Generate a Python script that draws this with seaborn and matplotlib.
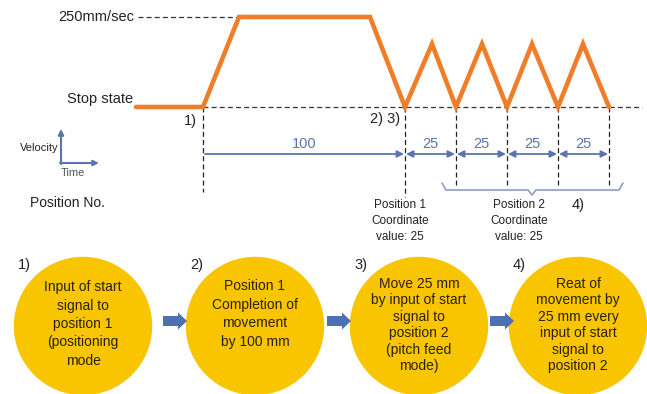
import matplotlib
matplotlib.use("Agg")
import matplotlib.pyplot as plt
import seaborn as sns
from matplotlib.patches import Circle, FancyArrow

sns.set_style("white")
plt.rcParams['font.family'] = ['Liberation Sans', 'DejaVu Sans']

# velocity profile (time in px units, velocity in mm/sec)
profile_t = [136, 203, 239, 370, 405, 432, 456, 482, 507, 532, 558, 583, 609]
profile_v = [0, 0, 250, 250, 0, 175, 0, 175, 0, 175, 0, 175, 0]

# position marks on the time axis and their distances
mark_t = [203, 405, 456, 507, 558, 609]
dist_labels = ["100", "25", "25", "25", "25"]

# step circles
step_x = [83, 255, 419, 578]
step_labels = ["1)", "2)", "3)", "4)"]
step_texts = [
    "Input of start\nsignal to\nposition 1\n(positioning\nmode",
    "Position 1\nCompletion of\nmovement\nby 100 mm",
    "Move 25 mm\nby input of start\nsignal to\nposition 2\n(pitch feed\nmode)",
    "Reat of\nmovement by\n25 mm every\ninput of start\nsignal to\nposition 2",
]

orange = "#f07d2a"
blue = "#5b74b0"
gold = "#f8c500"

def vy(v):
    # velocity -> vertical position on the sheet
    return 107 - v * 0.36

fig = plt.figure(figsize=(6.47, 3.94), dpi=100)
ax = fig.add_axes([0, 0, 1, 1])
ax.set_xlim(0, 647)
ax.set_ylim(394, 0)
ax.axis("off")

# reference dashed lines
ax.plot([138, 239], [vy(250), vy(250)], color="#333333", lw=0.9, ls=(0, (4, 2.5)))
ax.plot([203, 642], [vy(0), vy(0)], color="#333333", lw=0.9, ls=(0, (4, 2.5)))
for i, t in enumerate(mark_t):
    bottom = 192 if i == 0 else (197 if i == 1 else 185)
    ax.plot([t, t], [vy(0), bottom], color="#222222", lw=0.9, ls=(0, (4, 2.5)))

sns.lineplot(x=profile_t, y=[vy(v) for v in profile_v], ax=ax, color=orange,
             lw=3.3, sort=False, solid_joinstyle="miter", zorder=5)

ax.text(134, vy(250), "250mm/sec", ha="right", va="center", fontsize=10.5, color="#222222")
ax.text(133, 99, "Stop state", ha="right", va="center", fontsize=10.5, color="#222222")
ax.text(197, 121, "1)", ha="right", va="center", fontsize=10.5, color="#222222")
ax.text(400, 119, "2) 3)", ha="right", va="center", fontsize=10.5, color="#222222")

# distance arrows
ax.annotate("", xy=(404, 154), xytext=(205, 154),
            arrowprops=dict(arrowstyle="-|>", color=blue, lw=1.3, mutation_scale=10,
                            shrinkA=0, shrinkB=0))
ax.text((mark_t[0] + mark_t[1]) / 2, 144, dist_labels[0], ha="center", va="center",
        fontsize=10.5, color=blue)
for a, b, lab in zip(mark_t[1:-1], mark_t[2:], dist_labels[1:]):
    ax.annotate("", xy=(b - 1, 154), xytext=(a + 1, 154),
                arrowprops=dict(arrowstyle="<|-|>", color=blue, lw=1.3, mutation_scale=10,
                                shrinkA=0, shrinkB=0))
    ax.text((a + b) / 2, 144, lab, ha="center", va="center", fontsize=10.5, color=blue)

# brace under position 2 marks
bc = "#8f9dc0"
ax.plot([442, 446, 528, 532, 536, 619, 623], [183, 190, 190, 195, 190, 190, 183],
        color=bc, lw=1.2, solid_joinstyle="round")

ax.text(400, 221, "Position 1\nCoordinate\nvalue: 25", ha="center", va="center",
        fontsize=8.5, color="#222222", linespacing=1.45)
ax.text(519, 221, "Position 2\nCoordinate\nvalue: 25", ha="center", va="center",
        fontsize=8.5, color="#222222", linespacing=1.45)
ax.text(572, 205, "4)", ha="left", va="center", fontsize=10.5, color="#222222")

# velocity / time legend axes
ax.annotate("", xy=(61, 129), xytext=(61, 164),
            arrowprops=dict(arrowstyle="-|>", color=blue, lw=1.5, mutation_scale=8,
                            shrinkA=0, shrinkB=0))
ax.annotate("", xy=(99, 163), xytext=(60, 163),
            arrowprops=dict(arrowstyle="-|>", color=blue, lw=1.5, mutation_scale=8,
                            shrinkA=0, shrinkB=0))
ax.text(59, 148, "Velocity", ha="right", va="center", fontsize=8, color="#222222")
ax.text(61, 173, "Time", ha="left", va="center", fontsize=8, color="#555555")
ax.text(30, 203, "Position No.", ha="left", va="center", fontsize=10, color="#222222")

# step circles with arrows between them
for i, (cx, lab, txt) in enumerate(zip(step_x, step_labels, step_texts)):
    ax.add_patch(Circle((cx, 326), 68.5, color=gold, zorder=1))
    ls = 1.4 if i < 2 else 1.22
    cy = 324 if i == 0 else (314 if i == 1 else 325)
    ax.text(cx, cy, txt, ha="center", va="center", fontsize=10, color="#2a2200",
            linespacing=ls, zorder=3)
    ax.text(cx - 65, 265, lab, ha="left", va="center", fontsize=10.5,
            color="#222222", zorder=4,
            bbox=dict(facecolor="white", edgecolor="none", pad=1.5))
for x0 in [163, 327, 490]:
    ax.add_patch(FancyArrow(x0, 321, 15, 0, width=10, head_width=17, head_length=9,
                            length_includes_head=False, color="#4f6fb3", lw=0, zorder=2))

fig.savefig("out.png", dpi=100)
